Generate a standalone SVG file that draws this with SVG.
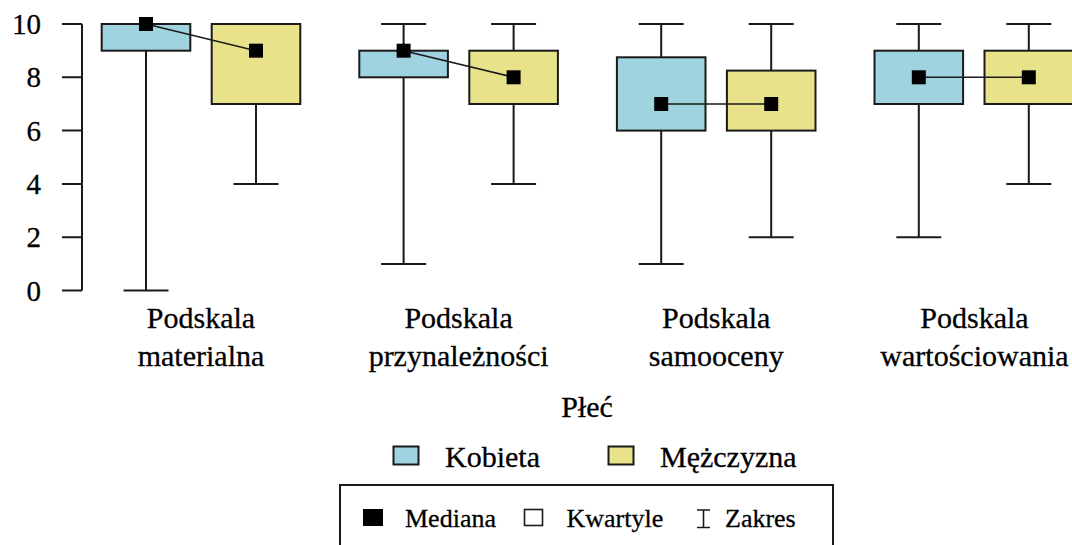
<svg xmlns="http://www.w3.org/2000/svg" width="1072" height="545" viewBox="0 0 1072 545">
  <style>
    text { font-family: "Liberation Serif", "Times New Roman", serif; fill: #000; stroke: #000; stroke-width: 0.3; }
    .tick { font-size: 29px; text-anchor: end; }
    .cat { font-size: 30px; text-anchor: middle; }
    .leg { font-size: 30px; }
    .small { font-size: 26px; }
    .axis { stroke: #1a1a1a; stroke-width: 2; fill: none; }
    .whisk { stroke: #1a1a1a; stroke-width: 2; fill: none; }
    .kob { fill: #9fd3e0; stroke: #1a1a1a; stroke-width: 2; }
    .mez { fill: #e8e38a; stroke: #1a1a1a; stroke-width: 2; }
    .link { stroke: #1a1a1a; stroke-width: 1.6; fill: none; }
    .med { fill: #000; }
  </style>
  <defs>
    <!-- median marker, 14x14 centred on origin -->
    <rect id="medMark" x="-7" y="-7" width="14" height="14" class="med"/>
  </defs>
  <rect width="1072" height="545" fill="#fff"/>

  <!-- value axis: y = 290.5 - 26.65 * v -->
  <g id="axis">
    <path class="axis" d="M82 24V290.5M62 24H82M62 77.3H82M62 130.6H82M62 183.9H82M62 237.2H82M62 290.5H82"/>
    <text class="tick" x="41" y="34">10</text>
    <text class="tick" x="41" y="87.3">8</text>
    <text class="tick" x="41" y="140.6">6</text>
    <text class="tick" x="41" y="193.9">4</text>
    <text class="tick" x="41" y="247.2">2</text>
    <text class="tick" x="41" y="300.5">0</text>
  </g>

  <!-- Podskala materialna -->
  <g id="materialna-kobieta">
    <path class="whisk" d="M146 50.7V290.5M123.5 290.5H168.5"/>
    <rect class="kob" x="101.7" y="24" width="88.6" height="26.7"/>
  </g>
  <g id="materialna-mezczyzna">
    <path class="whisk" d="M256 104V183.9M233.5 183.9H278.5"/>
    <rect class="mez" x="211.7" y="24" width="88.6" height="80"/>
  </g>

  <!-- Podskala przynależności -->
  <g id="przynaleznosci-kobieta">
    <path class="whisk" d="M403.6 24V50.7M381.1 24H426.1M403.6 77.3V264M381.1 264H426.1"/>
    <rect class="kob" x="359.3" y="50.7" width="88.6" height="26.6"/>
  </g>
  <g id="przynaleznosci-mezczyzna">
    <path class="whisk" d="M513.6 24V50.7M491.1 24H536.1M513.6 104V183.9M491.1 183.9H536.1"/>
    <rect class="mez" x="469.3" y="50.7" width="88.6" height="53.3"/>
  </g>

  <!-- Podskala samooceny -->
  <g id="samooceny-kobieta">
    <path class="whisk" d="M661.2 24V57.3M638.7 24H683.7M661.2 130.6V264M638.7 264H683.7"/>
    <rect class="kob" x="616.9" y="57.3" width="88.6" height="73.3"/>
  </g>
  <g id="samooceny-mezczyzna">
    <path class="whisk" d="M771.2 24V70.6M748.7 24H793.7M771.2 130.6V237.2M748.7 237.2H793.7"/>
    <rect class="mez" x="726.9" y="70.6" width="88.6" height="60"/>
  </g>

  <!-- Podskala wartościowania -->
  <g id="wartosciowania-kobieta">
    <path class="whisk" d="M918.8 24V50.7M896.3 24H941.3M918.8 104V237.2M896.3 237.2H941.3"/>
    <rect class="kob" x="874.5" y="50.7" width="88.6" height="53.3"/>
  </g>
  <g id="wartosciowania-mezczyzna">
    <path class="whisk" d="M1028.8 24V50.7M1006.3 24H1051.3M1028.8 104V183.9M1006.3 183.9H1051.3"/>
    <rect class="mez" x="984.5" y="50.7" width="88.6" height="53.3"/>
  </g>

  <!-- median lines joining the two groups of each subscale -->
  <g id="connectors">
    <path class="link" d="M146 24L256 50.7"/>
    <path class="link" d="M403.6 50.7L513.6 77.3"/>
    <path class="link" d="M661.2 104H771.2"/>
    <path class="link" d="M918.8 77.3H1028.8"/>
  </g>

  <!-- median markers -->
  <g id="medians">
    <use href="#medMark" x="146" y="24"/>
    <use href="#medMark" x="256" y="50.7"/>
    <use href="#medMark" x="403.6" y="50.7"/>
    <use href="#medMark" x="513.6" y="77.3"/>
    <use href="#medMark" x="661.2" y="104"/>
    <use href="#medMark" x="771.2" y="104"/>
    <use href="#medMark" x="918.8" y="77.3"/>
    <use href="#medMark" x="1028.8" y="77.3"/>
  </g>

  <!-- category labels -->
  <g id="categories">
    <text class="cat" x="201" y="328">Podskala</text>
    <text class="cat" x="201" y="366">materialna</text>
    <text class="cat" x="458.6" y="328">Podskala</text>
    <text class="cat" x="458.6" y="366">przynależności</text>
    <text class="cat" x="716.2" y="328">Podskala</text>
    <text class="cat" x="716.2" y="366">samooceny</text>
    <text class="cat" x="974.5" y="328">Podskala</text>
    <text class="cat" x="974.5" y="366">wartościowania</text>
  </g>

  <!-- group legend -->
  <g id="legend-plec">
    <text class="cat" x="587" y="417">Płeć</text>
    <rect class="kob" x="393.5" y="446.5" width="25" height="18"/>
    <text class="leg" x="445" y="467">Kobieta</text>
    <rect class="mez" x="608.5" y="446.5" width="25" height="18"/>
    <text class="leg" x="660" y="467">Mężczyzna</text>
  </g>

  <!-- statistic legend -->
  <g id="legend-stat">
    <rect x="340" y="485" width="493" height="80" fill="#fff" stroke="#1a1a1a" stroke-width="2"/>
    <rect x="363" y="509" width="20" height="17" fill="#000"/>
    <text class="small" x="405" y="527">Mediana</text>
    <rect x="524.5" y="509.5" width="18" height="16" fill="#fff" stroke="#1a1a1a" stroke-width="1.6"/>
    <text class="small" x="566.5" y="527">Kwartyle</text>
    <path d="M703.5 510V527.5M697 510H710M697 527.5H710" stroke="#1a1a1a" stroke-width="1.6" fill="none"/>
    <text class="small" x="725" y="527">Zakres</text>
  </g>
</svg>
